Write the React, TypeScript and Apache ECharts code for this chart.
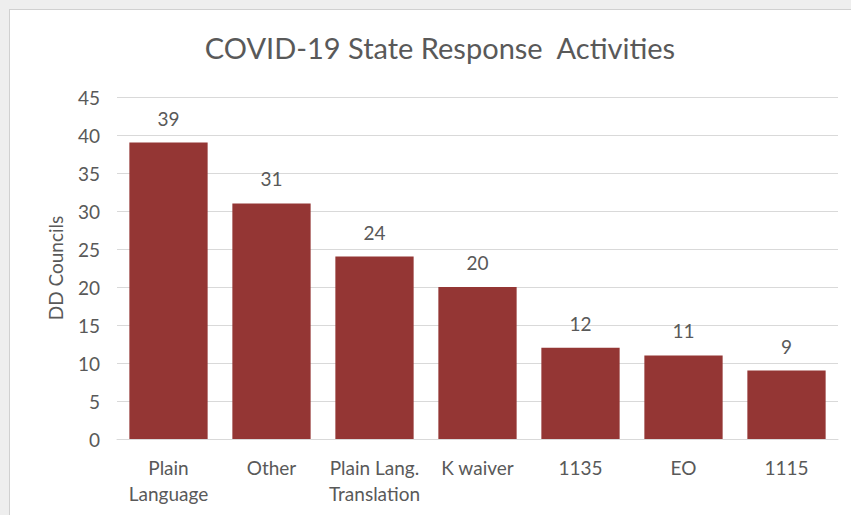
import React, { useEffect, useRef } from "react";
import * as echarts from "echarts";

const categories = ["Plain\nLanguage", "Other", "Plain Lang.\nTranslation", "K waiver", "1135", "EO", "1115"];
const values = [39, 31, 24, 20, 12, 11, 9];
const yTicks = { min: 0, max: 45, interval: 5 };

const FONT = "Lato, 'Open Sans', sans-serif";

export default function App() {
  const ref = useRef<HTMLDivElement>(null);
  useEffect(() => {
    if (!ref.current) return;
    const chart = echarts.init(ref.current, null, { renderer: "svg" });
    chart.setOption({
      animation: false,
      backgroundColor: "#ffffff",
      title: {
        text: "COVID-19 State Response  Activities",
        left: 425,
        textAlign: "center",
        top: 18,
        textStyle: { fontFamily: FONT, fontSize: 29, fontWeight: "normal", color: "#595959" },
      },
      grid: { left: 107, right: 13, top: 87, bottom: 76 },
      xAxis: {
        type: "category",
        data: categories,
        axisLine: { lineStyle: { color: "#d9d9d9", width: 1 } },
        axisTick: { show: false },
        axisLabel: { fontFamily: FONT, fontSize: 19, color: "#595959", margin: 15, lineHeight: 26, interval: 0 },
      },
      yAxis: {
        type: "value",
        min: yTicks.min,
        max: yTicks.max,
        interval: yTicks.interval,
        name: "DD Councils",
        nameLocation: "middle",
        nameGap: 52,
        nameTextStyle: { fontFamily: FONT, fontSize: 19, color: "#595959" },
        axisLabel: { fontFamily: FONT, fontSize: 19, color: "#595959", margin: 17 },
        splitLine: { lineStyle: { color: "#d9d9d9", width: 1 } },
        axisLine: { show: false },
        axisTick: { show: false },
      },
      series: [
        {
          type: "bar",
          data: values,
          barCategoryGap: "24%",
          itemStyle: { color: "#943634" },
          label: {
            show: true,
            position: "top",
            distance: 15,
            fontFamily: FONT,
            fontSize: 19,
            color: "#595959",
          },
        },
      ],
    });
    return () => chart.dispose();
  }, []);
  return (
    <div style={{ position: "fixed", left: 0, top: 0, width: 851, height: 515, background: "#eeeeee" }}>
      <div
        style={{
          position: "absolute",
          left: 9,
          top: 9,
          width: 842,
          height: 506,
          borderLeft: "1px solid #d0d0d0",
          borderTop: "1px solid #d0d0d0",
          background: "#fff",
        }}
      >
        <div ref={ref} style={{ width: 841, height: 505 }} />
      </div>
    </div>
  );
}
